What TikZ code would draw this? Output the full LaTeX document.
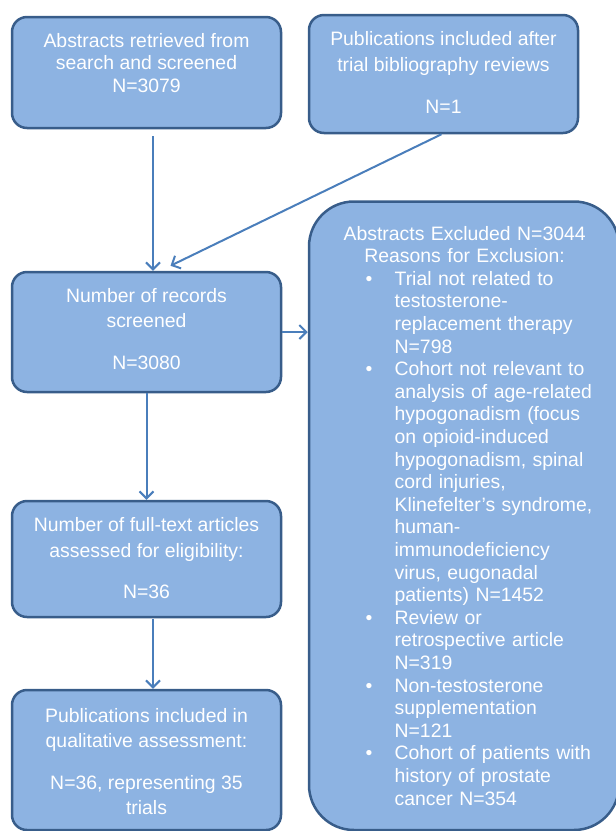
\documentclass[tikz,border=0pt]{standalone}
\usepackage{fontspec}
\setmainfont{Liberation Sans}
\usetikzlibrary{positioning,arrows.meta}

\definecolor{boxfill}{HTML}{8DB3E2}
\definecolor{boxline}{HTML}{385D8A}
\definecolor{arrline}{HTML}{4A7EBB}

% bullet and indent for the exclusion list
\newcommand{\bul}{\makebox[50pt][l]{\hspace{20.9pt}•}}
\newcommand{\ind}{\hspace*{50pt}}

\begin{document}
\begin{tikzpicture}[x=1pt,y=-1pt,
  box/.style={draw=boxline,fill=boxfill,line width=2.5pt,rounded corners=15pt,
    minimum width=269pt,inner sep=0pt},
  txt/.style={text=white,align=center,inner sep=0pt,
    font=\fontsize{19.4}{22.5}\selectfont},
  flow/.style={draw=arrline,line width=2pt,-{Straight Barb[length=7pt,width=14pt]}}]

\clip (0,0) rectangle (616,831);

% boxes
\node[box,minimum height=111pt] (abs) at (146.5,72.5) {};
\node[box,minimum height=118pt] (bib) at (443.5,74) {};
\node[box,minimum height=120pt] (scr) at (146.5,332) {};
\node[box,minimum height=116pt] (full) at (146.5,559) {};
\node[box,minimum height=140pt] (qual) at (146.5,760) {};
\node[box,minimum width=310pt,minimum height=628.5pt,rounded corners=45pt] (excl) at (464,515.75) {};

% texts
\node[txt,below=17pt of abs.north] (abstxt) {Abstracts retrieved from\\search and screened\\N=3079};
\node[txt,below=17pt of bib.north] (bibtxt) {Publications included after\\[3.5pt]trial bibliography reviews\\[19.5pt]N=1};
\node[txt,below=17pt of scr.north] (scrtxt) {Number of records\\[2.5pt]screened\\[19.5pt]N=3080};
\node[txt,below=17pt of full.north] (fulltxt) {Number of full-text articles\\[3.5pt]assessed for eligibility:\\[19pt]N=36};
\node[txt,below=19pt of qual.north] (qualtxt) {Publications included in\\[2.5pt]qualitative assessment:\\[19.5pt]N=36, representing 35\\[2.5pt]trials};

\node[txt,text width=290pt,align=left,font=\fontsize{19.4}{22.6}\selectfont,
  below right=25.5pt and 36.7pt of excl.north west] (excltxt) {%
\makebox[240pt]{Abstracts Excluded N=3044}\\
\makebox[240pt]{Reasons for Exclusion:}\\
\bul Trial not related to\\
\ind testosterone-\\
\ind replacement therapy\\
\ind N=798\\
\bul Cohort not relevant to\\
\ind analysis of age-related\\
\ind hypogonadism (focus\\
\ind on opioid-induced\\
\ind hypogonadism, spinal\\
\ind cord injuries,\\
\ind Klinefelter’s syndrome,\\
\ind human-\\
\ind immunodeficiency\\
\ind virus, eugonadal\\
\ind patients) N=1452\\
\bul Review or\\
\ind retrospective article\\
\ind N=319\\
\bul Non-testosterone\\
\ind supplementation\\
\ind N=121\\
\bul Cohort of patients with\\
\ind history of prostate\\
\ind cancer N=354};

% arrows
\draw[flow] ([xshift=6.5pt,yshift=-7pt]abs.south) -- ([xshift=6.5pt]scr.north);
\draw[flow] ([xshift=-2pt]bib.south) -- ([xshift=24pt,yshift=5pt]scr.north);
\draw[flow] (scr.east) -- (scr.east -| excl.west);
\draw[flow] (scr.south) -- (full.north);
\draw[flow] ([xshift=6.5pt,yshift=-1pt]full.south) -- ([xshift=6.5pt]qual.north);

\end{tikzpicture}
\end{document}
